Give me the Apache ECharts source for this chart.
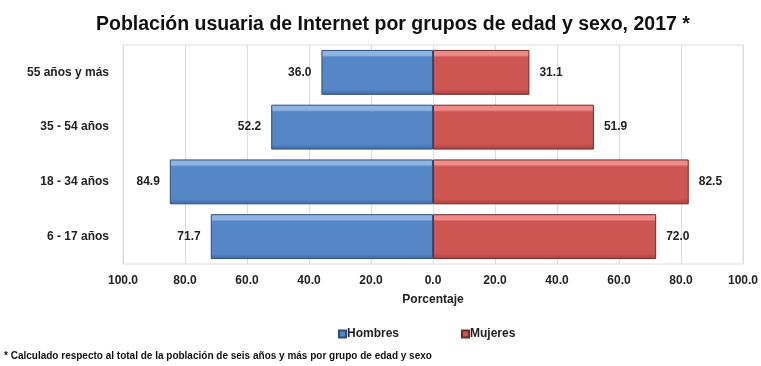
<!DOCTYPE html>
<html><head><meta charset="utf-8">
<script src="https://cdn.jsdelivr.net/npm/echarts@6/dist/echarts.min.js"></script>
<style>html,body{margin:0;padding:0;background:#fff}#c{width:761px;height:366px}</style>
</head><body><div id="c"></div>
<script>
const categories = ['6 - 17 años', '18 - 34 años', '35 - 54 años', '55 años y más'];
const hombres = [71.7, 84.9, 52.2, 36.0];
const mujeres = [72.0, 82.5, 51.9, 31.1];
const FONT = '"Liberation Sans Narrow", "Liberation Sans", Arial, sans-serif';

const chart = echarts.init(document.getElementById('c'));
function grad(light, base, dark) {
  return new echarts.graphic.LinearGradient(0, 0, 0, 1, [
    {offset: 0, color: light}, {offset: 0.12, color: light},
    {offset: 0.16, color: base}, {offset: 0.88, color: base}, {offset: 1, color: dark}
  ]);
}
chart.setOption({
  animation: false,
  textStyle: {fontFamily: FONT},
  title: {
    text: 'Población usuaria de Internet por grupos de edad y sexo, 2017 *',
    left: 91, top: 10,
    textStyle: {fontFamily: FONT, fontSize: 19.5, fontWeight: 'bold', color: '#111'}
  },
  legend: {
    data: ['Hombres', 'Mujeres'], left: 333, top: 323,
    itemWidth: 7, itemHeight: 7, itemGap: 62, icon: 'rect',
    textStyle: {fontFamily: FONT, fontSize: 12, fontWeight: 'bold', color: '#222', padding: [0,0,0,-4]}
  },
  grid: {left: 123, right: 18, top: 45, bottom: 102},
  xAxis: {
    type: 'value', min: -100, max: 100, interval: 20,
    name: 'Porcentaje', nameLocation: 'middle', nameGap: 30,
    nameTextStyle: {fontFamily: FONT, fontSize: 12, fontWeight: 'bold', color: '#222'},
    axisLabel: {formatter: v => Math.abs(v).toFixed(1), fontFamily: FONT, fontSize: 12, fontWeight: 'bold', color: '#222', margin: 11},
    axisLine: {show: false}, axisTick: {show: false},
    splitLine: {lineStyle: {color: '#dcdcdc'}}
  },
  yAxis: {
    type: 'category', data: categories,
    axisLabel: {fontFamily: FONT, fontSize: 12, fontWeight: 'bold', color: '#222', margin: 14},
    axisLine: {show: false}, axisTick: {show: false}
  },
  series: [
    {
      name: 'Hombres', type: 'bar', stack: 's', barCategoryGap: '18%',
      data: hombres.map(v => -v),
      itemStyle: {color: grad('#8fb4e3', '#5586c6', '#3d6aa5'), borderColor: '#2f4f7a', borderWidth: 1},
      label: {show: true, position: 'left', distance: 10, formatter: p => Math.abs(p.value).toFixed(1),
        fontFamily: FONT, fontSize: 12, fontWeight: 'bold', color: '#222'}
    },
    {
      name: 'Mujeres', type: 'bar', stack: 's',
      data: mujeres,
      itemStyle: {color: grad('#f08a86', '#cd5552', '#a9403d'), borderColor: '#6e2a28', borderWidth: 1},
      label: {show: true, position: 'right', distance: 10, formatter: p => p.value.toFixed(1),
        fontFamily: FONT, fontSize: 12, fontWeight: 'bold', color: '#222'}
    }
  ],
  color: ['#5586c6', '#cd5552'],
  graphic: [
    {type: 'rect', shape: {x: 123, y: 45, width: 620, height: 219}, style: {fill: 'none', stroke: '#dcdcdc', lineWidth: 1}, silent: true, z: -1},
    {type: 'text', left: 4, top: 351, style: {text: '* Calculado respecto al total de la población de seis años y más por grupo de edad y sexo',
      font: 'bold 10px ' + FONT, fill: '#111'}}
  ]
});
</script></body></html>
